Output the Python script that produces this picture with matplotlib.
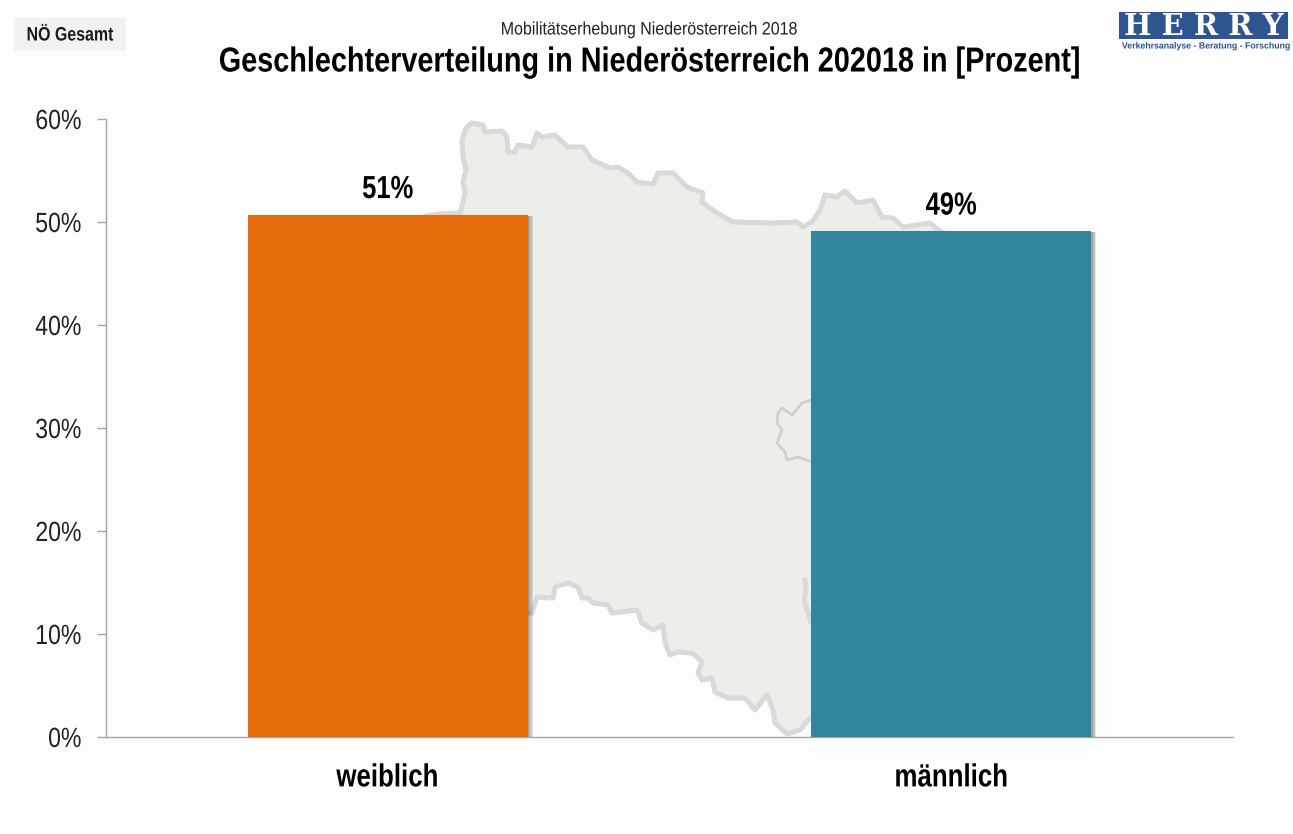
import matplotlib
matplotlib.use("Agg")
import matplotlib.pyplot as plt
import matplotlib.patches as mpatches
import matplotlib.patheffects as pe
from matplotlib.transforms import Affine2D

##Datos
categorias = ["weiblich", "männlich"]
valores = [50.7, 49.1]
etiquetas = ["51%", "49%"]
colores = ["#E46C0A", "#31859C"]
yticks = [0, 10, 20, 30, 40, 50, 60]
yticklabels = ["0%", "10%", "20%", "30%", "40%", "50%", "60%"]

##Silueta de Niederösterreich (fondo decorativo, en pixeles de la imagen)
mapa_x = [425, 440, 460, 465, 463, 466, 463, 462, 466, 472, 483, 485, 502, 507, 508, 515, 518, 532, 537, 542, 555,
          568, 583, 592, 610, 618, 628, 637, 653, 658, 673, 687, 703, 702, 717, 733, 773, 797, 803, 812, 820,
          825, 837, 845, 857, 873, 882, 893, 903, 930, 940, 960, 960, 810, 800, 787, 775, 773, 767, 755, 745,
          728, 715, 712, 702, 698, 702, 692, 678, 670, 665, 663, 653, 642, 637, 612, 608, 593, 588, 582, 578,
          568, 555, 553, 537, 532, 500, 425]
mapa_y = [216, 214, 213, 193, 182, 170, 157, 140, 128, 123, 125, 132, 131, 137, 152, 152, 145, 147, 133, 137, 135,
          147, 147, 160, 168, 167, 173, 182, 184, 173, 173, 187, 193, 202, 213, 222, 223, 222, 227, 222, 210,
          195, 197, 191, 203, 200, 217, 218, 227, 223, 231, 240, 718, 718, 730, 734, 723, 710, 695, 710, 698,
          698, 692, 678, 680, 673, 662, 653, 652, 655, 643, 625, 630, 623, 610, 613, 605, 603, 598, 598, 587,
          583, 587, 598, 597, 613, 613, 216]
wien_x = [811, 802, 792, 782, 778, 777, 782, 777, 785, 787, 798, 812]
wien_y = [400, 403, 415, 408, 413, 423, 430, 443, 452, 460, 457, 462]
borde_x = [805, 806, 804, 811]
borde_y = [580, 590, 600, 622]

W, H = 1293, 834
plt.rcParams["font.family"] = ["Liberation Sans", "DejaVu Sans"]


##No hay Arial Narrow instalada: se angosta el texto al dibujarlo
class Estrecho(pe.AbstractPathEffect):
    def __init__(self, factor, ancla="centro"):
        super().__init__()
        self.factor = factor
        self.ancla = ancla

    def draw_path(self, renderer, gc, tpath, affine, rgbFace=None):
        ext = tpath.get_extents()
        x0 = ext.x1 if self.ancla == "derecha" else (ext.x0 + ext.x1) / 2
        t = Affine2D().translate(-x0, 0).scale(self.factor, 1).translate(x0, 0) + affine
        renderer.draw_path(gc, tpath, t, rgbFace)


fig = plt.figure(figsize=(W / 100, H / 100), dpi=100, facecolor="white")

##Capa de fondo en pixeles
fondo = fig.add_axes([0, 0, 1, 1], zorder=0)
fondo.set_xlim(0, W)
fondo.set_ylim(H, 0)
fondo.axis("off")
fondo.add_patch(mpatches.Rectangle((7, 10), W - 7, H - 10, color="#FDFDFD", lw=0))
fondo.fill(mapa_x, mapa_y, facecolor="#EDEDEA", edgecolor="#D9D9D9", lw=3.6, joinstyle="round")
fondo.plot(wien_x, wien_y, color="#CFCFCF", lw=2, solid_joinstyle="round")
fondo.plot(borde_x, borde_y, color="#D9D9D9", lw=3.6)

##Recuadro
fondo.add_patch(mpatches.Rectangle((14, 18), 112, 33, color="#F2F2F2", lw=0))
fondo.text(70, 36, "NÖ Gesamt", ha="center", va="center", fontsize=14, fontweight="bold", color="#1a1a1a",
           path_effects=[Estrecho(0.82)])

##Títulos
fondo.text(649, 30, "Mobilitätserhebung Niederösterreich 2018", ha="center", va="center", fontsize=13,
           color="#222222", path_effects=[Estrecho(0.885)])
fondo.text(650, 62, "Geschlechterverteilung in Niederösterreich 202018 in [Prozent]", ha="center", va="center",
           fontsize=25, fontweight="bold", color="black", path_effects=[Estrecho(0.83)])

##Logo
fondo.add_patch(mpatches.Rectangle((1119, 12), 169, 27, color="#2F5590", lw=0))
fondo.text(1204, 26, "H E R R Y", ha="center", va="center", fontsize=21, fontweight="bold",
           family="DejaVu Serif", color="white")
fondo.text(1206, 46, "Verkehrsanalyse - Beratung - Forschung", ha="center", va="center", fontsize=6.5,
           fontweight="bold", color="#2F5590", path_effects=[Estrecho(0.97)])

##Gráfica
ax = fig.add_axes([106 / W, 1 - 737 / H, (1233 - 106) / W, (737 - 119) / H], zorder=1)
ax.patch.set_alpha(0)
barras = ax.bar(range(len(categorias)), valores, width=0.497, color=colores, zorder=3)
for b in barras:
    b.set_path_effects([
        pe.SimplePatchShadow(offset=(3.6, -0.7), shadow_rgbFace="#000000", alpha=0.1),
        pe.SimplePatchShadow(offset=(2.7, -0.7), shadow_rgbFace="#000000", alpha=0.1),
        pe.SimplePatchShadow(offset=(1.8, -0.7), shadow_rgbFace="#000000", alpha=0.1),
        pe.SimplePatchShadow(offset=(0.9, -0.7), shadow_rgbFace="#000000", alpha=0.1),
        pe.Normal(),
    ])
for i, v in enumerate(valores):
    ax.annotate(etiquetas[i], (i, v), xytext=(0, 7), textcoords="offset points", ha="center", va="bottom",
                fontsize=23, fontweight="bold", color="black", zorder=4, path_effects=[Estrecho(0.8)])

ax.set_xlim(-0.5, 1.5)
ax.set_ylim(0, 60)
ax.set_yticks(yticks)
ax.set_yticklabels(yticklabels, fontsize=20, color="#222222", path_effects=[Estrecho(0.83, "derecha")])
ax.set_xticks(range(len(categorias)))
ax.set_xticklabels(categorias, fontsize=23, fontweight="bold", color="black", path_effects=[Estrecho(0.81)])
ax.tick_params(axis="y", length=6.5, width=1, color="#A6A6A6", pad=11)
ax.tick_params(axis="x", length=0, pad=19)
for lado in ["top", "right"]:
    ax.spines[lado].set_visible(False)
for lado in ["left", "bottom"]:
    ax.spines[lado].set_color("#A6A6A6")
    ax.spines[lado].set_linewidth(1)

plt.savefig("out.png", dpi=100)
